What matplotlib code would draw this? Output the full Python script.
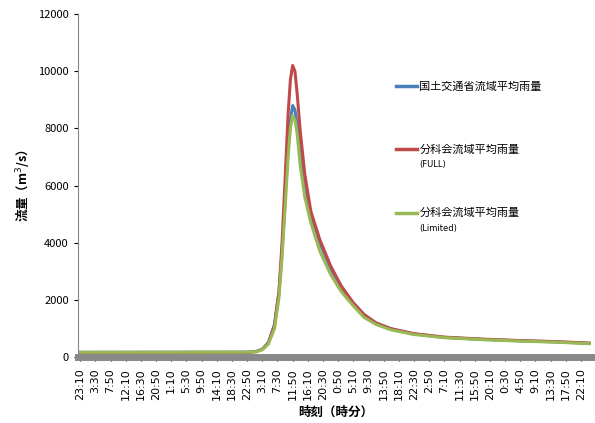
import matplotlib
matplotlib.use('Agg')
import matplotlib.pyplot as plt
from matplotlib.lines import Line2D

plt.rcParams['font.family'] = ['Noto Sans CJK JP', 'DejaVu Sans']

tick_labels = ['23:10', '3:30', '7:50', '12:10', '16:30', '20:50', '1:10', '5:30', '9:50',
               '14:10', '18:30', '22:50', '3:10', '7:30', '11:50', '16:10', '20:30', '0:50',
               '5:10', '9:30', '13:50', '18:10', '22:30', '2:50', '7:10', '11:30', '15:50',
               '20:10', '0:30', '4:50', '9:10', '13:30', '17:50', '22:10']

# positions in tick-label units
t = [0, 11.0, 11.6, 12.0, 12.4, 12.8, 13.1, 13.3, 13.5, 13.7, 13.85, 14.0, 14.15, 14.3,
     14.5, 14.8, 15.2, 15.8, 16.5, 17.2, 18.0, 18.7, 19.5, 20.5, 22.0, 24.0, 26.5, 29.0,
     31.5, 33.6]
mlit = [180, 185, 210, 290, 520, 1150, 2300, 3700, 5500, 7300, 8300, 8800, 8650, 8100,
        7000, 5900, 5000, 4000, 3100, 2450, 1900, 1500, 1200, 1000, 820, 700, 630, 580,
        540, 490]
full = [170, 175, 200, 280, 500, 1100, 2300, 4000, 6200, 8500, 9700, 10200, 10000, 9200,
        7900, 6400, 5100, 4100, 3200, 2500, 1900, 1500, 1200, 1000, 830, 710, 640, 590,
        550, 500]
limited = [180, 185, 200, 270, 470, 1000, 2100, 3500, 5200, 7000, 8000, 8450, 8300, 7800,
           6700, 5600, 4700, 3700, 2900, 2300, 1800, 1400, 1150, 960, 800, 690, 620, 570,
           530, 480]

fig = plt.figure(figsize=(5.95, 4.23), dpi=100)
ax = fig.add_axes([0.131, 0.155, 0.862, 0.812])

ax.plot(t, mlit, color='#4a7ebb', lw=2.2)
ax.plot(t, full, color='#be4b48', lw=2.2)
ax.plot(t, limited, color='#98b954', lw=2.2)

ax.set_xlim(-0.15, 33.65)
ax.set_ylim(0, 12000)
ax.set_yticks(range(0, 12001, 2000))
ax.set_xticks(range(len(tick_labels)))
ax.set_xticklabels(tick_labels, rotation=90, fontsize=8, family='DejaVu Sans')
ax.tick_params(axis='y', labelsize=8, length=3)
ax.tick_params(axis='x', length=3, pad=5)
for s in ['top', 'right']:
    ax.spines[s].set_visible(False)
ax.spines['left'].set_color('#888888')
ax.spines['bottom'].set_color('#888888')
ax.spines['bottom'].set_linewidth(5)

fig.text(0.565, 0.025, '時刻（時分）', fontsize=9, fontweight='bold', ha='center', va='center')
ax.set_ylabel('流量（m$^3$/s）', fontsize=9, fontweight='bold')

# legend
items = [(0.66, '#4a7ebb', '国土交通省流域平均雨量', None),
         (0.51, '#be4b48', '分科会流域平均雨量', '(FULL)'),
         (0.36, '#98b954', '分科会流域平均雨量', '(Limited)')]
for y, c, lab, sub in items:
    fig.add_artist(Line2D([0.665, 0.7], [y + 0.137, y + 0.137], color=c, lw=2.5))
    fig.text(0.705, y + 0.136, lab, fontsize=8, va='center')
    if sub:
        fig.text(0.705, y + 0.1, sub, fontsize=6, va='center', family='DejaVu Sans')

fig.savefig('out.png', dpi=100)
